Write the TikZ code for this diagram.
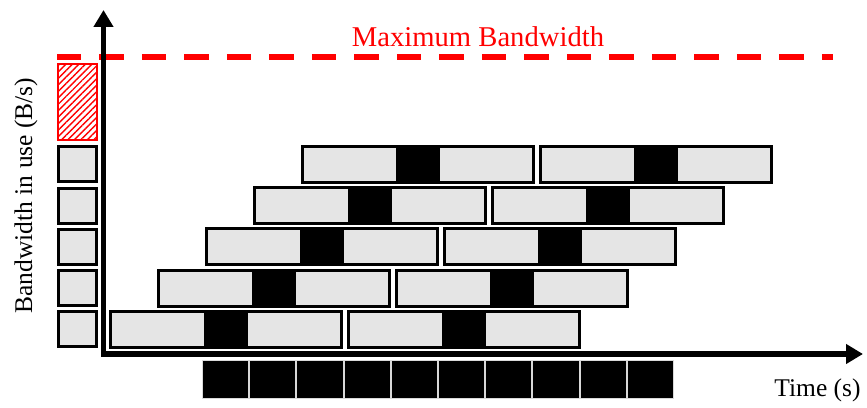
\documentclass[tikz,border=0pt]{standalone}
\usepackage{fontspec}
\setmainfont{Liberation Serif}
\usetikzlibrary{arrows.meta,patterns.meta}
\definecolor{barGray}{RGB}{229,229,229}
\definecolor{bwRed}{RGB}{255,0,0}
\tikzset{
    >={Triangle[length=0.34cm,width=0.38cm]},
    every node/.append style={inner sep=0pt,outer sep=0pt},
    axis/.style={line width=0.12cm},
    limit/.style={draw=bwRed,line width=0.12cm,dash pattern=on 0.486cm off 0.364cm},
    bar/.style={rectangle,draw=black,fill=barGray,line width=0.06cm,minimum width=4.62cm,minimum height=0.72cm},
    burst/.style={rectangle,fill=black,minimum width=0.9cm,minimum height=0.78cm},
    slot/.style={rectangle,draw=black,fill=barGray,line width=0.06cm,minimum width=0.76cm,minimum height=0.70cm},
    over/.style={rectangle,draw=bwRed,line width=0.04cm,minimum width=0.78cm,minimum height=1.52cm,
        pattern={Lines[angle=45,distance=2.6pt,line width=0.8pt]},pattern color=bwRed},
    quantum/.style={rectangle,fill=black,draw=black!15,line width=0.02cm,minimum width=0.924cm,minimum height=0.76cm},
    lbl/.style={font=\fontsize{14.5}{17}\selectfont},
}

\begin{document}
\begin{tikzpicture}[x=0.02cm,y=-0.02cm]
    \useasboundingbox (0,0) rectangle (867,408);

    % bandwidth limit
    \coordinate (bwL) at (57,57);
    \coordinate (bwR) at (833,57);
    \draw[limit] (bwL) -- (bwR);
    \node[bwRed,font=\fontsize{16.3}{19}\selectfont,anchor=base] (maxbw) at (478,47) {Maximum Bandwidth};

    % transfers, two per row, shifted by one burst each row
    \foreach \r in {0,...,4} {
        \pgfmathsetmacro\yy{329.5-41.3*\r}
        \pgfmathsetmacro\xx{226+48*\r}
        \node[slot] (slot-\r) at (77.5,\yy) {};
        \node[bar] (bar-\r-1) at (\xx,\yy) {};
        \node[burst] (burst-\r-1) at (bar-\r-1) {};
        \node[bar] (bar-\r-2) at (\xx+238,\yy) {};
        \node[burst] (burst-\r-2) at (bar-\r-2) {};
    }
    \node[over] (over) at (77.5,102) {};

    % bursts on the time line
    \foreach \i in {0,...,9}
        \node[quantum] (q\i) at (225.6+47.2*\i,379.5) {};

    % axes
    \coordinate (origin) at (103.5,354);
    \coordinate (ytip) at (103.5,10);
    \coordinate (xtip) at (863,354);
    \draw[axis,<->] (ytip) -- (origin) -- (xtip);

    \node[lbl,rotate=90] (ylabel) at (26,195.5) {Bandwidth in use (B/s)};
    \node[lbl] (xlabel) at (817.5,390) {Time (s)};
\end{tikzpicture}
\end{document}
